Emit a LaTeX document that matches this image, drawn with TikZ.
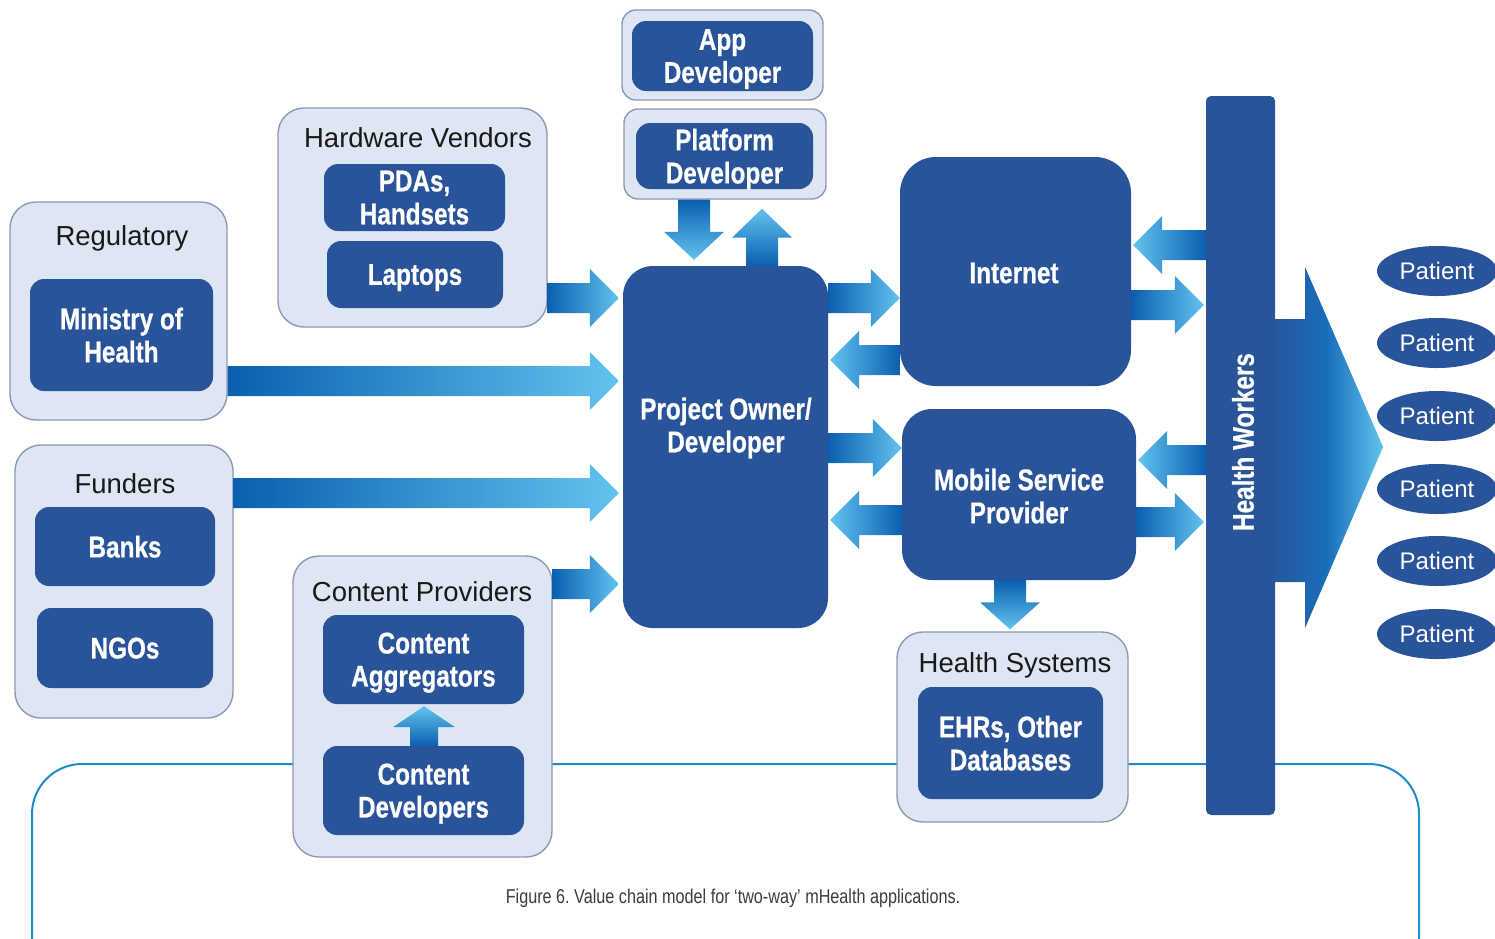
\documentclass[tikz,border=0pt]{standalone}
\usepackage{fontspec}
\setmainfont{Liberation Sans}
\newfontfamily\condf[FakeStretch=0.81,BoldFont={Liberation Sans Bold},BoldFeatures={FakeBold=0.6}]{Liberation Sans}
\usetikzlibrary{calc,shapes.geometric}
\definecolor{dblue}{HTML}{2A5499}
\definecolor{ofill}{HTML}{DEE6F4}
\definecolor{obord}{HTML}{8A9AB3}
\definecolor{adark}{HTML}{0B5FB0}
\definecolor{alight}{HTML}{62C3EE}
\definecolor{bline}{HTML}{1E8CC8}
\definecolor{capgray}{HTML}{3C3C3C}
% right-pointing fat arrow: #1 start, #2 tip, #3 y
\newcommand\rarr[3]{\path[left color=adark,right color=alight] let \p1=(#1), \p2=(#2), \p3=(0,#3) in
  (\x1,\y3+15pt) -- (\x2-29pt,\y3+15pt) -- (\x2-29pt,\y3+29pt) -- (\x2,\y3) -- (\x2-29pt,\y3-29pt) -- (\x2-29pt,\y3-15pt) -- (\x1,\y3-15pt) -- cycle;}
\newcommand\larr[3]{\path[left color=alight,right color=adark] let \p1=(#1), \p2=(#2), \p3=(0,#3) in
  (\x1,\y3+15pt) -- (\x2+29pt,\y3+15pt) -- (\x2+29pt,\y3+29pt) -- (\x2,\y3) -- (\x2+29pt,\y3-29pt) -- (\x2+29pt,\y3-15pt) -- (\x1,\y3-15pt) -- cycle;}
% vertical: #1 start, #2 tip, #3 x, #4 shaft half, #5 head half, #6 head length
\newcommand\darr[6]{\path[top color=adark,bottom color=alight] let \p1=(#1), \p2=(#2), \p3=(#3,0) in
  (\x3-#4pt,\y1) -- (\x3-#4pt,\y2+#6pt) -- (\x3-#5pt,\y2+#6pt) -- (\x3,\y2) -- (\x3+#5pt,\y2+#6pt) -- (\x3+#4pt,\y2+#6pt) -- (\x3+#4pt,\y1) -- cycle;}
\newcommand\uarr[6]{\path[top color=alight,bottom color=adark] let \p1=(#1), \p2=(#2), \p3=(#3,0) in
  (\x3-#4pt,\y1) -- (\x3-#4pt,\y2-#6pt) -- (\x3-#5pt,\y2-#6pt) -- (\x3,\y2) -- (\x3+#5pt,\y2-#6pt) -- (\x3+#4pt,\y2-#6pt) -- (\x3+#4pt,\y1) -- cycle;}
\frenchspacing
\begin{document}
\begin{tikzpicture}[x=1pt,y=-1pt,
  outer/.style={draw=obord, line width=1.4pt, fill=ofill, rounded corners=26pt, inner sep=0pt},
  inbox/.style={fill=dblue, rounded corners=14pt, inner sep=0pt, text=white, text depth=0pt,
    font=\condf\bfseries\fontsize{30}{33}\selectfont, align=center},
  bigbox/.style={fill=dblue, rounded corners=36pt, inner sep=0pt},
  lbl/.style={font=\fontsize{27.5}{30}\selectfont, text=black!90, inner sep=0pt, anchor=base},
  wtxt/.style={text=white, font=\condf\bfseries\fontsize{30}{33}\selectfont, align=center, inner sep=0pt},
  patient/.style={ellipse, fill=dblue, minimum width=120pt, minimum height=50pt, inner sep=0pt,
    text=white, font=\fontsize{24}{26}\selectfont},
  bracket/.style={draw=bline, line width=2pt, rounded corners=50pt}]
\useasboundingbox (0,0) rectangle (1495,938);
\fill[white] (0,0) rectangle (1495,938);

% bottom bracket line
\coordinate (bl) at (32,945);
\coordinate (br) at (1419,945);
\draw[bracket] (bl) -- (32,764) -- (1419,764) -- (br);

% Regulatory
\node[outer, minimum width=217pt, minimum height=218pt] (reg) at (118.5,311) {};
\node[lbl] (reglbl) at (122,245) {Regulatory};
\node[inbox, minimum width=183pt, minimum height=112pt] (moh) at (121.5,335) {Ministry of\\Health};

% Funders
\node[outer, minimum width=218pt, minimum height=273pt] (fund) at (124,581.5) {};
\node[lbl] (fundlbl) at (125,493) {Funders};
\node[inbox, minimum width=180pt, minimum height=79pt] (banks) at (125,546.5) {Banks};
\node[inbox, minimum width=176pt, minimum height=80pt] (ngos) at (125,648) {NGOs};

% Hardware Vendors
\node[outer, minimum width=269pt, minimum height=219pt] (hw) at (412.5,217.5) {};
\node[lbl] (hwlbl) at (418,147) {Hardware Vendors};
\node[inbox, minimum width=181pt, minimum height=67pt] (pdas) at (414.5,197.5) {PDAs,\\Handsets};
\node[inbox, minimum width=176pt, minimum height=67pt] (lap) at (415,274.5) {Laptops};

% Content Providers
\node[outer, minimum width=259pt, minimum height=301pt] (cp) at (422.5,706.5) {};
\node[lbl] (cplbl) at (422,601) {Content Providers};
\node[inbox, minimum width=201pt, minimum height=89pt] (agg) at (423.5,659.5) {Content\\Aggregators};
\node[inbox, minimum width=201pt, minimum height=89pt] (cdev) at (423.5,790.5) {Content\\Developers};

% App / Platform developer
\node[outer, rounded corners=14pt, minimum width=201pt, minimum height=90pt] (appo) at (722.5,55) {};
\node[inbox, minimum width=181pt, minimum height=70pt] (app) at (722.5,56) {App\\Developer};
\node[outer, rounded corners=14pt, minimum width=202pt, minimum height=90pt] (plato) at (725,154) {};
\node[inbox, minimum width=177pt, minimum height=66pt] (plat) at (724.5,156) {Platform\\Developer};

% Project owner
\node[bigbox, rounded corners=30pt, minimum width=205pt, minimum height=362pt] (proj) at (725.5,447) {};
\node[wtxt] (projlbl) at (726,428) {Project Owner/\\Developer};

% Internet, Mobile
\node[bigbox, minimum width=231pt, minimum height=229pt] (inet) at (1015.5,271.5) {};
\node[wtxt] (inetlbl) at (1014,273) {Internet};
\node[bigbox, rounded corners=30pt, minimum width=234pt, minimum height=171pt] (msp) at (1019,494.5) {};
\node[wtxt] (msplbl) at (1019,496) {Mobile Service\\Provider};

% Health Systems
\node[outer, minimum width=231pt, minimum height=190pt] (hs) at (1012.5,727) {};
\node[lbl] (hslbl) at (1015,672) {Health Systems};
\node[inbox, minimum width=185pt, minimum height=112pt] (ehr) at (1010.5,743) {EHRs, Other\\Databases};

% big arrow to patients
\coordinate (bigtip) at (1383,447);
\path[left color=dblue!90!adark, right color=alight, middle color=adark!85!alight]
  (1270,319) -- (1305,319) -- (1305,267) -- (bigtip) -- (1305,628) -- (1305,582) -- (1270,582) -- cycle;

% Health workers bar
\node[fill=dblue, rounded corners=5pt, minimum width=69pt, minimum height=719pt, inner sep=0pt] (hwb) at (1240.5,455.5) {};
\node[wtxt, rotate=90] (hwblbl) at (1243,442) {Health Workers};

% patients
\foreach \i/\yy in {1/271,2/343,3/416,4/489,5/561,6/634}
  \node[patient] (pat\i) at (1437,\yy) {Patient};

% arrows into project
\rarr{hw.east}{$(proj.west)+(-4,0)$}{298}
\rarr{reg.east}{$(proj.west)+(-4,0)$}{381}
\rarr{fund.east}{$(proj.west)+(-4,0)$}{493}
\rarr{cp.east}{$(proj.west)+(-4,0)$}{584}

% project <-> internet / mobile
\rarr{proj.east}{inet.west}{298}
\larr{inet.west}{$(proj.east)+(2,0)$}{360}
\rarr{proj.east}{msp.west}{448}
\larr{msp.west}{$(proj.east)+(2,0)$}{520}

% health workers <-> internet / mobile
\larr{hwb.west}{$(inet.east)+(2,0)$}{245}
\rarr{inet.east}{$(hwb.west)+(-2,0)$}{305}
\larr{hwb.west}{$(msp.east)+(2,0)$}{460}
\rarr{msp.east}{$(hwb.west)+(-2,0)$}{522}

% vertical arrows
\darr{plato.south}{$(proj.north)+(0,-6)$}{694}{16}{30}{28}
\uarr{proj.north}{$(plato.south)+(0,9)$}{762}{16}{30}{29}
\darr{msp.south}{$(hs.north)+(0,-2)$}{1010}{16}{30}{27}
\uarr{cdev.north}{$(agg.south)+(0,2)$}{424}{14}{31}{21}

% caption
\node[font=\condf\fontsize{20}{22}\selectfont, text=capgray, inner sep=0pt] (cap) at (733,898) {Figure 6. Value chain model for ‘two-way’ mHealth applications.};
\end{tikzpicture}
\end{document}
